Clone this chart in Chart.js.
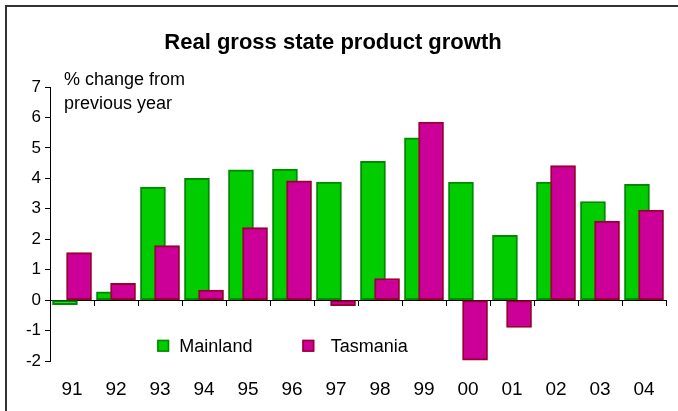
<!DOCTYPE html>
<html><head><meta charset="utf-8">
<script src="https://cdn.jsdelivr.net/npm/chart.js@4/dist/chart.umd.min.js"></script>
<style>
html,body{margin:0;padding:0;background:#fff;}
#wrap{position:relative;width:678px;height:411px;overflow:hidden;background:#fff;}
#frame{position:absolute;left:5px;top:5px;width:700px;height:430px;border-top:2px solid #333;border-left:2px solid #333;pointer-events:none;}
canvas{position:absolute;left:0;top:0;}
</style></head><body>
<div id="wrap"><canvas id="c" width="678" height="411"></canvas><div id="frame"></div></div>
<script>
const years = ['91','92','93','94','95','96','97','98','99','00','01','02','03','04'];
const mainland = [-0.15, 0.27, 3.71, 4.0, 4.28, 4.3, 3.88, 4.56, 5.33, 3.88, 2.13, 3.88, 3.24, 3.8];
const tasmania = [1.56, 0.55, 1.79, 0.33, 2.38, 3.92, -0.18, 0.71, 5.85, -1.97, -0.9, 4.42, 2.6, 2.96];
const titleText = 'Real gross state product growth';
const yTitleLines = ['% change from', 'previous year'];
const seriesNames = ['Mainland', 'Tasmania'];

const FONT = "'Liberation Sans', Arial, sans-serif";
const SHIFT = 0.16;

const yTitlePlugin = {
  id: 'yTitle',
  afterDraw(chart) {
    const {ctx, chartArea: a} = chart;
    ctx.save();
    ctx.font = '18px ' + FONT;
    ctx.fillStyle = '#000';
    ctx.textAlign = 'left';
    ctx.textBaseline = 'alphabetic';
    ctx.fillText(yTitleLines[0], a.left + 14, a.top - 2);
    ctx.fillText(yTitleLines[1], a.left + 14, a.top + 22);
    ctx.restore();
  }
};

const innerLegend = {
  id: 'innerLegend',
  afterDraw(chart) {
    const {ctx, chartArea: a, scales} = chart;
    const yc = scales.y.getPixelForValue(-1.5);
    const boxX = [0.174, 0.4096];
    const txtX = [0.21, 0.4557];
    ctx.save();
    chart.data.datasets.forEach((ds, i) => {
      const bx = a.left + boxX[i] * a.width;
      ctx.fillStyle = ds.backgroundColor;
      ctx.strokeStyle = ds.borderColor;
      ctx.lineWidth = 1.5;
      ctx.fillRect(bx, yc - 6, 12, 12);
      ctx.strokeRect(bx + 0.75, yc - 5.25, 10.5, 10.5);
      ctx.font = '18px ' + FONT;
      ctx.fillStyle = '#000';
      ctx.textAlign = 'left';
      ctx.textBaseline = 'middle';
      ctx.fillText(ds.label, a.left + txtX[i] * a.width, yc + 1);
    });
    ctx.restore();
  }
};

new Chart(document.getElementById('c'), {
  type: 'bar',
  data: {
    datasets: [
      {
        label: seriesNames[0],
        data: mainland.map((v, i) => ({x: i - SHIFT, y: v})),
        backgroundColor: '#00CC00',
        borderColor: '#008A00',
        borderWidth: 2,
        borderSkipped: false,
        barThickness: 25,
        grouped: false,
        order: 1
      },
      {
        label: seriesNames[1],
        data: tasmania.map((v, i) => ({x: i + SHIFT, y: v})),
        backgroundColor: '#CC0099',
        borderColor: '#990033',
        borderWidth: 2,
        borderSkipped: false,
        barThickness: 25,
        grouped: false,
        order: 0
      }
    ]
  },
  options: {
    responsive: false,
    animation: false,
    devicePixelRatio: 1,
    layout: {padding: {left: 0, right: 12, top: 0, bottom: 0}},
    plugins: {
      legend: {display: false},
      tooltip: {enabled: false},
      title: {
        display: true,
        text: titleText,
        color: '#000',
        font: {family: FONT, size: 22, weight: 'bold', lineHeight: 1.2},
        padding: {top: 30, bottom: 30.6}
      }
    },
    scales: {
      x: {
        type: 'linear',
        min: -0.5,
        max: 13.5,
        offset: false,
        position: {y: 0},
        afterBuildTicks: s => { s.ticks = years.concat(['']).map((_, i) => ({value: i - 0.5})); },
        grid: {display: true, drawOnChartArea: false, drawTicks: true, tickLength: 5, color: '#000', offset: false},
        border: {display: true, color: '#000', width: 1},
        ticks: {display: false}
      },
      xl: {
        type: 'linear',
        axis: 'x',
        min: -0.5,
        max: 13.5,
        offset: false,
        position: 'bottom',
        afterBuildTicks: s => { s.ticks = years.map((_, i) => ({value: i})); },
        afterFit: s => { s.height = 50; },
        grid: {display: false, drawTicks: false, offset: false},
        border: {display: false},
        ticks: {
          autoSkip: false,
          maxRotation: 0,
          padding: 17,
          color: '#000',
          font: {family: FONT, size: 19},
          callback: v => years[v]
        }
      },
      y: {
        type: 'linear',
        min: -2,
        max: 7,
        position: 'left',
        afterFit: s => { s.width = 50; },
        ticks: {stepSize: 1, color: '#000', padding: 4, font: {family: FONT, size: 17}},
        grid: {drawOnChartArea: false, drawTicks: true, tickLength: 5, color: '#000'},
        border: {display: true, color: '#000', width: 1}
      }
    }
  },
  plugins: [yTitlePlugin, innerLegend]
});
</script>
</body></html>
